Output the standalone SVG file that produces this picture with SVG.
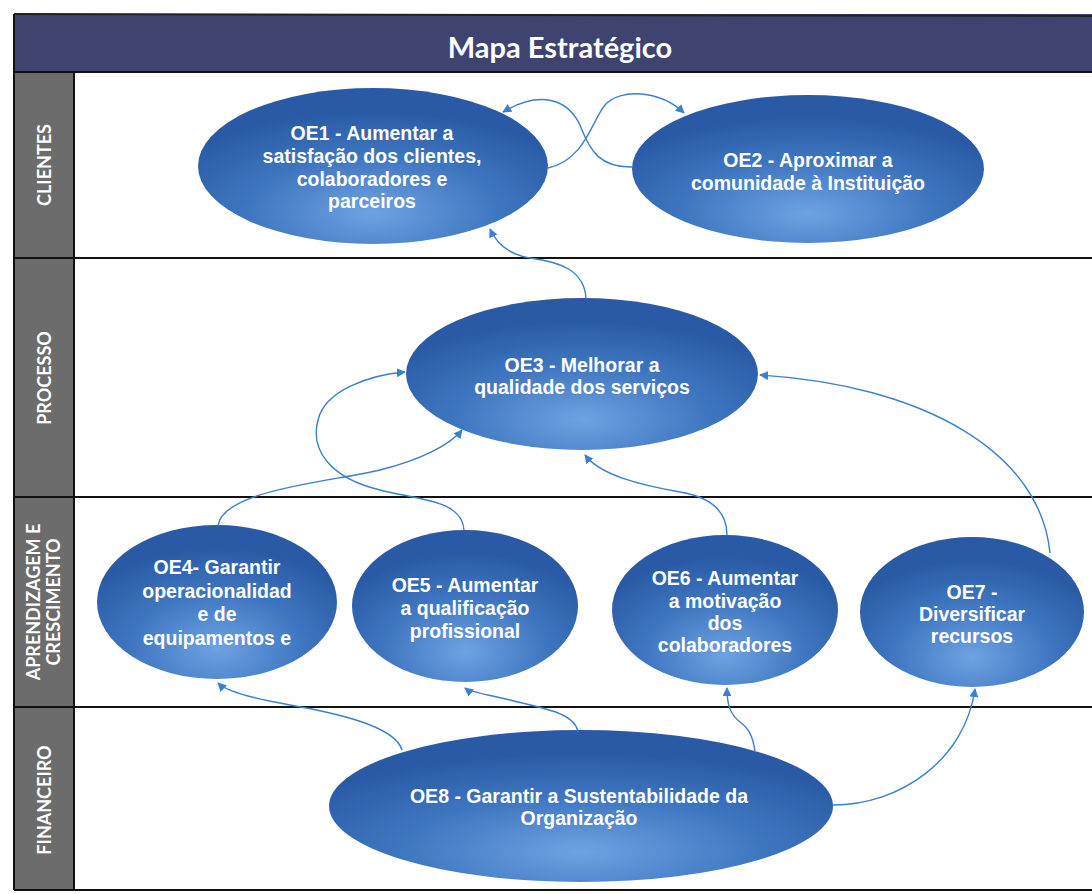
<svg xmlns="http://www.w3.org/2000/svg" width="1092" height="894" viewBox="0 0 1092 894">
<defs>
<radialGradient id="g" cx="50%" cy="80%" r="65%">
<stop offset="0" stop-color="#6ea2e2"/>
<stop offset="0.55" stop-color="#3f76c0"/>
<stop offset="1" stop-color="#2a5aa6"/>
</radialGradient>
<marker id="ah" viewBox="0 0 10 10" refX="9" refY="5" markerWidth="9" markerHeight="9" markerUnits="userSpaceOnUse" orient="auto">
<path d="M0,0 L10,5 L0,10 z" fill="#3a7fd0"/>
</marker>
<style>
.node ellipse{fill:url(#g);}
.node text{font-family:"Liberation Sans",Arial,sans-serif;font-weight:bold;font-size:19.5px;fill:#ffffff;text-anchor:middle;}
.lane{font-family:Lato,"Liberation Sans",sans-serif;font-weight:bold;font-size:18px;fill:#ffffff;text-anchor:middle;}
.conn path{fill:none;stroke:#3a7fd0;stroke-width:1.4;marker-end:url(#ah);}
.grid{stroke:#111;stroke-width:2;}
</style>
</defs>
<rect width="1092" height="894" fill="#ffffff"/>
<!-- header -->
<rect x="14" y="14" width="1078" height="58" fill="#3f4370"/>
<line x1="14" y1="14" x2="1092" y2="16" stroke="#222" stroke-width="2"/>
<text x="560" y="58" font-family="Lato,'Open Sans',sans-serif" font-weight="bold" font-size="29" fill="#ffffff" text-anchor="middle">Mapa Estratégico</text>
<!-- lane column -->
<rect x="14" y="72" width="60" height="818" fill="#6c6c6c"/>
<g class="grid">
<line x1="14" y1="72" x2="1092" y2="72"/>
<line x1="14" y1="258" x2="1092" y2="258"/>
<line x1="14" y1="497" x2="1092" y2="497"/>
<line x1="14" y1="707" x2="1092" y2="707"/>
<line x1="14" y1="890" x2="1092" y2="890"/>
<line x1="74" y1="72" x2="74" y2="890"/>
<line x1="14" y1="14" x2="14" y2="890"/>
</g>
<text class="lane" transform="translate(51,165) rotate(-90)">CLIENTES</text>
<text class="lane" transform="translate(51,378) rotate(-90)">PROCESSO</text>
<text class="lane" transform="translate(40,602) rotate(-90)">APRENDIZAGEM E</text>
<text class="lane" transform="translate(60,602) rotate(-90)">CRESCIMENTO</text>
<text class="lane" transform="translate(51,800) rotate(-90)">FINANCEIRO</text>
<!-- nodes -->
<g id="OE1" class="node"><ellipse cx="373" cy="166" rx="175" ry="78"/>
<text x="372" y="140">OE1 - Aumentar a</text><text x="372" y="163">satisfação dos clientes,</text><text x="372" y="186">colaboradores e</text><text x="372" y="208">parceiros</text></g>
<g id="OE2" class="node"><ellipse cx="808" cy="169" rx="176" ry="74"/>
<text x="808" y="167">OE2 - Aproximar a</text><text x="808" y="190">comunidade à Instituição</text></g>
<g id="OE3" class="node"><ellipse cx="582" cy="374" rx="176" ry="76"/>
<text x="582" y="372">OE3 - Melhorar a</text><text x="582" y="394">qualidade dos serviços</text></g>
<g id="OE4" class="node"><ellipse cx="217" cy="602" rx="120" ry="77"/>
<text x="217" y="574">OE4- Garantir</text><text x="217" y="598">operacionalidad</text><text x="217" y="621">e de</text><text x="217" y="645">equipamentos e</text></g>
<g id="OE5" class="node"><ellipse cx="465" cy="606" rx="113" ry="76"/>
<text x="465" y="592">OE5 - Aumentar</text><text x="465" y="615">a qualificação</text><text x="465" y="638">profissional</text></g>
<g id="OE6" class="node"><ellipse cx="725" cy="610" rx="113" ry="75"/>
<text x="725" y="585">OE6 - Aumentar</text><text x="725" y="608">a motivação</text><text x="725" y="630">dos</text><text x="725" y="652">colaboradores</text></g>
<g id="OE7" class="node"><ellipse cx="972" cy="612" rx="112" ry="75"/>
<text x="972" y="599">OE7 -</text><text x="972" y="621">Diversificar</text><text x="972" y="643">recursos</text></g>
<g id="OE8" class="node"><ellipse cx="581" cy="806" rx="252" ry="76"/>
<text x="579" y="803">OE8 - Garantir a Sustentabilidade da</text><text x="579" y="825">Organização</text></g>
<!-- connectors -->
<g id="connectors" class="conn">
<path d="M548,168 C585,160 592,120 605,105 C620,88 660,90 684,113"/>
<path d="M633,167 C600,168 590,150 582,130 C570,98 540,90 503,112"/>
<path d="M586,298 C584,270 560,262 530,258 C505,254 495,240 490,229"/>
<path d="M218,526 C222,490 330,482 380,470 C420,460 450,445 462,430"/>
<path d="M464,530 C462,500 420,500 380,490 C330,478 310,450 318,420 C325,390 370,375 405,372"/>
<path d="M727,535 C727,510 710,497 680,492 C640,485 600,475 585,455"/>
<path d="M1050,553 C1040,450 920,385 760,375"/>
<path d="M402,750 C395,725 330,712 290,705 C250,698 225,690 218,683"/>
<path d="M578,732 C575,712 540,708 510,700 C485,694 470,692 465,688"/>
<path d="M755,752 C753,735 748,728 740,722 C730,714 727,705 727,688"/>
<path d="M833,805 C900,805 965,760 975,689"/>
</g>
</svg>
